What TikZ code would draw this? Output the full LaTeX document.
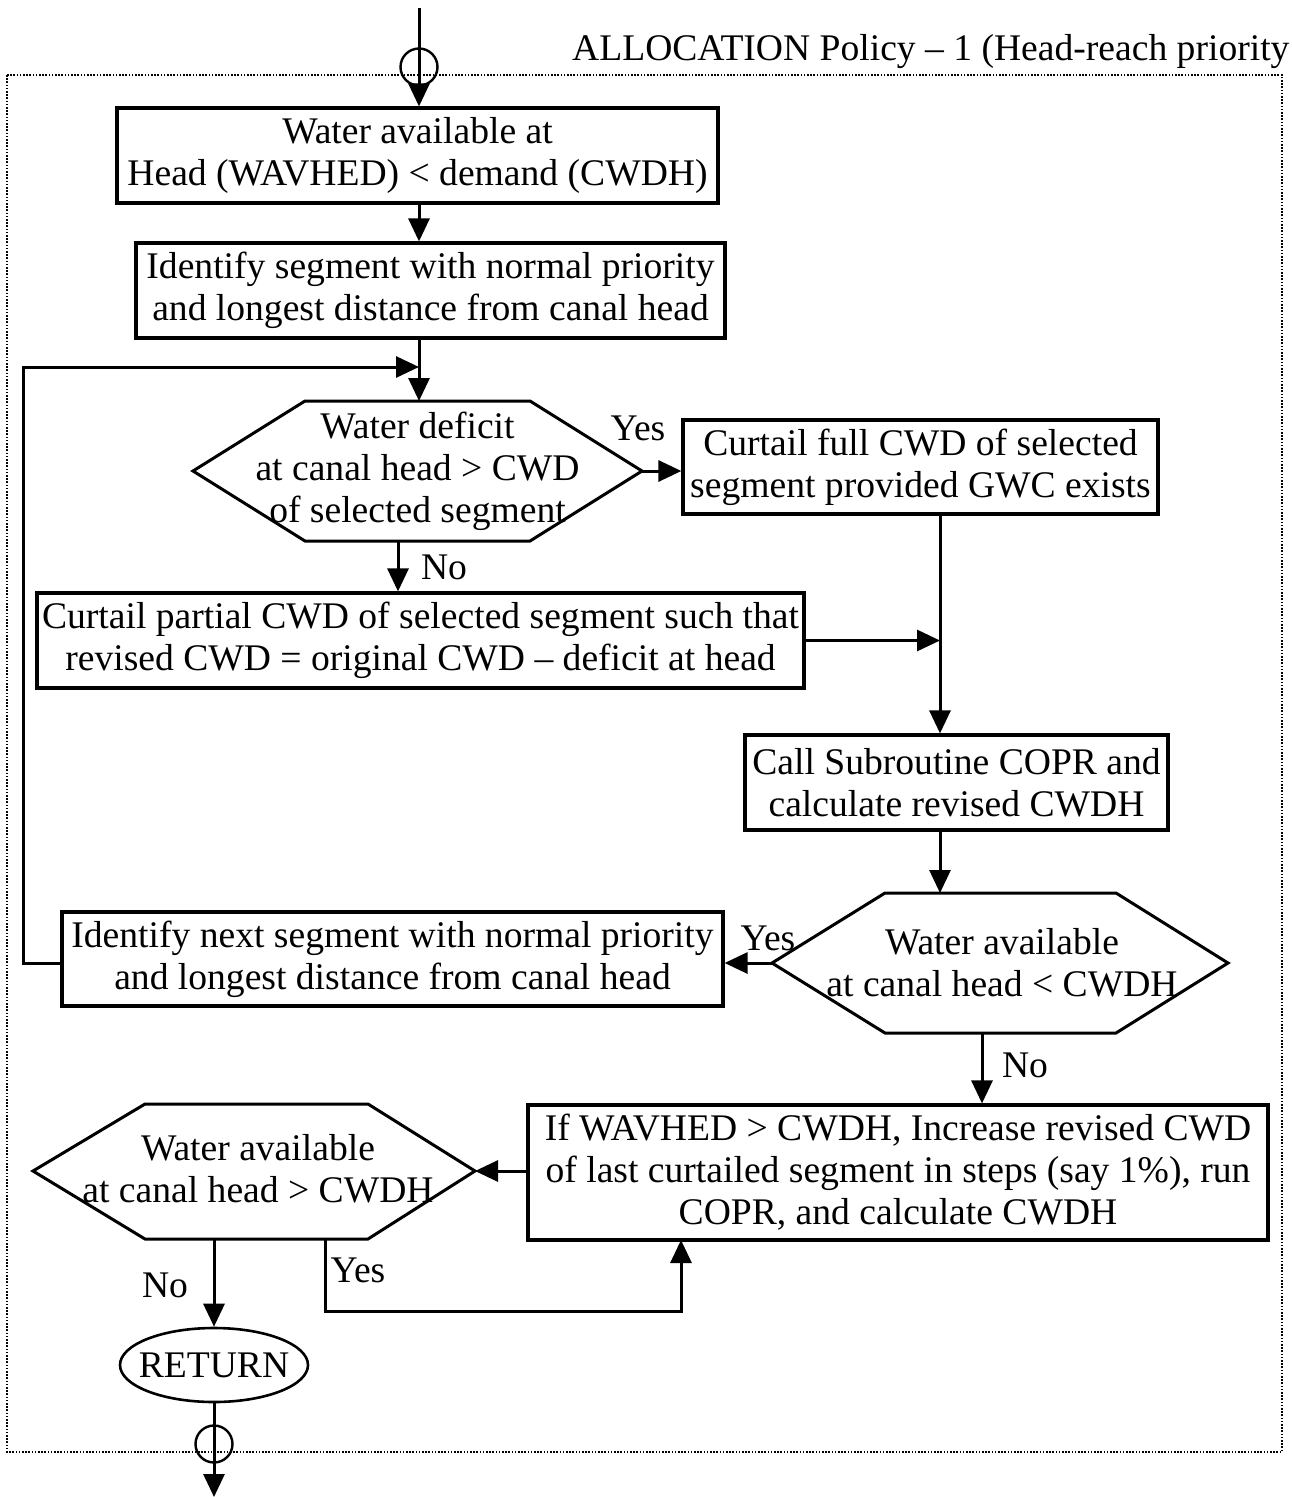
\documentclass[tikz,border=0pt]{standalone}
\usepackage{fontspec}
\setmainfont{Liberation Serif}
\usetikzlibrary{arrows.meta,shapes.geometric,calc}

\begin{document}
\begin{tikzpicture}[x=1pt,y=-1pt,
  font=\fontsize{37.6}{42}\selectfont,
  line width=3pt,
  proc/.style={draw, rectangle, inner sep=0pt, align=center, line width=3.2pt},
  txt/.style={inner sep=0pt, align=center},
  decline/.style={line width=3pt, line join=miter},
  arr/.style={-{Triangle[length=23pt,width=21pt]}},
  conn/.style={draw, circle, inner sep=0pt, minimum size=37pt, line width=2.4pt},
  lbl/.style={inner sep=0pt},
  frame/.style={line width=1.2pt, dash pattern=on 1.6pt off 1.6pt}
]
\useasboundingbox (0,0) rectangle (1292,1497);

% title and dotted frame
\node[lbl, anchor=base east] (title) at (1291,60) {ALLOCATION Policy – 1 (Head-reach priority};
\draw[frame] (7,75) rectangle (1282,1452);

% process boxes
\node[proc, minimum width=601pt, minimum height=95pt] (box1) at (417.5,155.5)
  {Water available at\\Head (WAVHED) < demand (CWDH)};
\node[proc, minimum width=589pt, minimum height=95pt] (box2) at (430.5,290.5)
  {Identify segment with normal priority\\and longest distance from canal head};
\node[proc, minimum width=475pt, minimum height=94pt] (box3) at (920.5,467)
  {Curtail full CWD of selected\\segment provided GWC exists};
\node[proc, minimum width=767pt, minimum height=95pt] (box4) at (420.5,640.5)
  {Curtail partial CWD of selected segment such that\\revised CWD = original CWD – deficit at head};
\node[proc, minimum width=423pt, minimum height=95pt] (box5) at (956.5,782.5)
  {Call Subroutine COPR and\\calculate revised CWDH};
\node[proc, minimum width=661pt, minimum height=94pt] (box6) at (392.5,959)
  {Identify next segment with normal priority\\and longest distance from canal head};
\node[proc, minimum width=740pt, minimum height=135pt] (box7) at (898,1172.5)
  {If WAVHED > CWDH, Increase revised CWD\\of last curtailed segment in steps (say 1\%), run\\COPR, and calculate CWDH};
\node[draw, ellipse, inner xsep=-14pt, inner ysep=0pt, minimum width=188pt, minimum height=74pt, line width=2.6pt] (ret) at (214,1365) {RETURN};

% decision 1
\coordinate (d1w) at (193,471);
\coordinate (d1e) at (642,471);
\coordinate (d1n) at (419,401);
\coordinate (d1no) at (398,541);
\draw[decline] (d1w) -- (305,401) -- (530,401) -- (d1e) -- (530,541) -- (305,541) -- cycle;
\node[txt] (d1) at (417.5,471) {Water deficit\\at canal head > CWD\\of selected segment};

% decision 2
\coordinate (d2w) at (772,963);
\coordinate (d2e) at (1228,963);
\coordinate (d2n) at (940,893);
\coordinate (d2no) at (982,1033);
\draw[decline] (d2w) -- (885,893) -- (1116,893) -- (d2e) -- (1116,1033) -- (885,1033) -- cycle;
\node[txt] (d2) at (1002,963) {Water available\\at canal head < CWDH};

% decision 3
\coordinate (d3w) at (33,1171);
\coordinate (d3e) at (475,1171);
\coordinate (d3no) at (214,1239);
\coordinate (d3yes) at (325,1239);
\draw[decline] (d3w) -- (145,1104) -- (368,1104) -- (d3e) -- (368,1239) -- (145,1239) -- cycle;
\node[txt] (d3) at (258,1169) {Water available\\at canal head > CWDH};

% off-page connectors
\coordinate (topin) at (419,8);
\coordinate (botout) at (214,1497);
\node[conn] (c1) at (419,67) {};
\node[conn] (c2) at (214,1444) {};

% flow lines
\draw[arr] (topin) -- (box1.north -| topin);
\draw[arr] (box1.south -| topin) -- (box2.north -| topin);
\coordinate (join1) at (419,367);
\draw[arr] (box2.south -| topin) -- (d1n);
\draw[arr] (box6.west |- d2w) -- ++(-37,0) |- (join1);
\draw[arr] (d1e) -- (d1e -| box3.west);
\draw[arr] (d1no) -- (d1no |- box4.north);
\draw (box3.south -| d2n) -- (box4.east -| d2n);
\draw[arr] (box4.east -| d2n) -- (box5.north -| d2n);
\draw[arr] (box4.east) -- (box4.east -| d2n);
\draw[arr] (box5.south -| d2n) -- (d2n);
\draw[arr] (d2w) -- (d2w -| box6.east);
\draw[arr] (d2no) -- (d2no |- box7.north);
\draw[arr] (d3e -| box7.west) -- (d3e);
\draw[arr] (d3no) -- (ret.north);
\coordinate (b7in) at (681,1240);
\coordinate (yesbend) at (325,1311);
\draw[arr] (d3yes) -- (yesbend) -| (b7in);
\draw[arr] (ret.south) -- (botout);

% branch labels
\node[lbl] (y1) at (638,428) {Yes};
\node[lbl] (n1) at (444,567) {No};
\node[lbl] (y2) at (768,938) {Yes};
\node[lbl] (n2) at (1025,1065) {No};
\node[lbl] (y3) at (358,1270) {Yes};
\node[lbl] (n3) at (165,1285) {No};
\end{tikzpicture}
\end{document}
